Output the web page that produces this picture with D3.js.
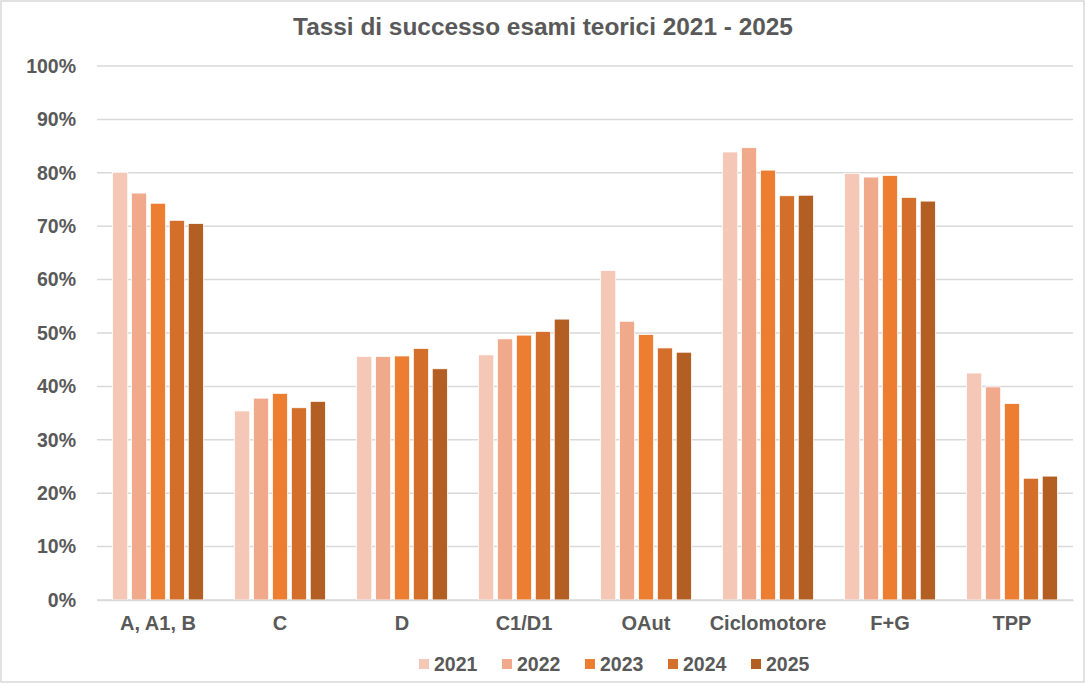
<!DOCTYPE html>
<html>
<head>
<meta charset="utf-8">
<script src="https://cdn.jsdelivr.net/npm/d3@7"></script>
<style>
  body { margin: 0; background: #fff; }
  text { font-family: "Liberation Sans", Arial, sans-serif; font-weight: bold; fill: #595959; }
</style>
</head>
<body>
<div id="chart"></div>
<script>
// data
var categories = ["A, A1, B", "C", "D", "C1/D1", "OAut", "Ciclomotore", "F+G", "TPP"];
var years = ["2021", "2022", "2023", "2024", "2025"];
var v2021 = [80.1, 35.4, 45.6, 45.9, 61.7, 83.9, 79.9, 42.5];
var v2022 = [76.2, 37.8, 45.6, 48.9, 52.2, 84.7, 79.2, 39.9];
var v2023 = [74.3, 38.7, 45.7, 49.6, 49.7, 80.5, 79.5, 36.8];
var v2024 = [71.1, 36.0, 47.1, 50.3, 47.2, 75.7, 75.4, 22.8];
var v2025 = [70.5, 37.2, 43.3, 52.6, 46.4, 75.8, 74.7, 23.2];
var yTicks = [0, 10, 20, 30, 40, 50, 60, 70, 80, 90, 100];
var title = "Tassi di successo esami teorici 2021 - 2025";

var series = [v2021, v2022, v2023, v2024, v2025];
var colors = ["#F5C7B7", "#F0A98A", "#ED7D31", "#D36E2B", "#B35E22"];

var w = 1086;
var h = 684;
var pLeft = 97, pRight = 1073, pTop = 66, pBottom = 600;

var svg = d3.select("#chart")
    .append("svg")
    .attr("width", w)
    .attr("height", h);

// outer frame
svg.append("rect")
    .attr("x", 1).attr("y", 1)
    .attr("width", w - 3).attr("height", h - 3)
    .attr("fill", "#fff")
    .attr("stroke", "#D9D9D9")
    .attr("stroke-width", 1.5);

var x0 = d3.scaleBand()
    .domain(categories)
    .range([pLeft, pRight])
    .paddingInner(0.225)
    .paddingOuter(0.1125);

var x1 = d3.scaleBand()
    .domain(years)
    .range([0, x0.bandwidth()])
    .paddingInner(0.2)
    .paddingOuter(0.1);

var y = d3.scaleLinear()
    .domain([0, 100])
    .range([pBottom, pTop]);

// gridlines
svg.append("g")
    .selectAll("line")
    .data(yTicks)
    .enter().append("line")
    .attr("x1", pLeft)
    .attr("x2", pRight)
    .attr("y1", function (d) { return y(d); })
    .attr("y2", function (d) { return y(d); })
    .attr("stroke", "#D9D9D9")
    .attr("stroke-width", 1.5);

// y axis labels
var yAxis = d3.axisLeft(y)
    .tickValues(yTicks)
    .tickSize(0)
    .tickPadding(21)
    .tickFormat(function (d) { return d + "%"; });

var gy = svg.append("g")
    .attr("transform", "translate(" + pLeft + ",0)")
    .call(yAxis);
gy.select(".domain").remove();
gy.selectAll("text")
    .style("font-size", "19.5px")
    .attr("fill", "#595959");

// bars
var groups = svg.append("g")
    .selectAll("g")
    .data(categories)
    .enter().append("g")
    .attr("transform", function (d) { return "translate(" + x0(d) + ",0)"; });

groups.selectAll("rect")
    .data(function (d, i) {
        return years.map(function (yr, j) { return { year: yr, value: series[j][i], idx: j }; });
    })
    .enter().append("rect")
    .attr("x", function (d) { return x1(d.year); })
    .attr("width", x1.bandwidth())
    .attr("y", function (d) { return y(d.value); })
    .attr("height", function (d) { return pBottom - y(d.value); })
    .attr("fill", function (d) { return colors[d.idx]; })
    .attr("stroke", "#fff")
    .attr("stroke-width", 0.75);

// x axis
var xAxis = d3.axisBottom(x0)
    .tickSize(0)
    .tickPadding(16);

var gx = svg.append("g")
    .attr("transform", "translate(0," + pBottom + ")")
    .call(xAxis);
gx.select(".domain")
    .attr("stroke", "#D9D9D9")
    .attr("stroke-width", 1.5);
gx.selectAll("text")
    .style("font-size", "20px")
    .attr("fill", "#595959");

// title
svg.append("text")
    .attr("x", w / 2)
    .attr("y", 35)
    .attr("text-anchor", "middle")
    .style("font-size", "24.4px")
    .text(title);

// legend
var legend = svg.append("g")
    .selectAll("g")
    .data(years)
    .enter().append("g")
    .attr("transform", function (d, i) { return "translate(" + (419 + i * 83) + ",659)"; });

legend.append("rect")
    .attr("width", 10)
    .attr("height", 10)
    .attr("fill", function (d, i) { return colors[i]; });

legend.append("text")
    .attr("x", 15)
    .attr("y", 12)
    .style("font-size", "19.5px")
    .text(function (d) { return d; });
</script>
</body>
</html>
